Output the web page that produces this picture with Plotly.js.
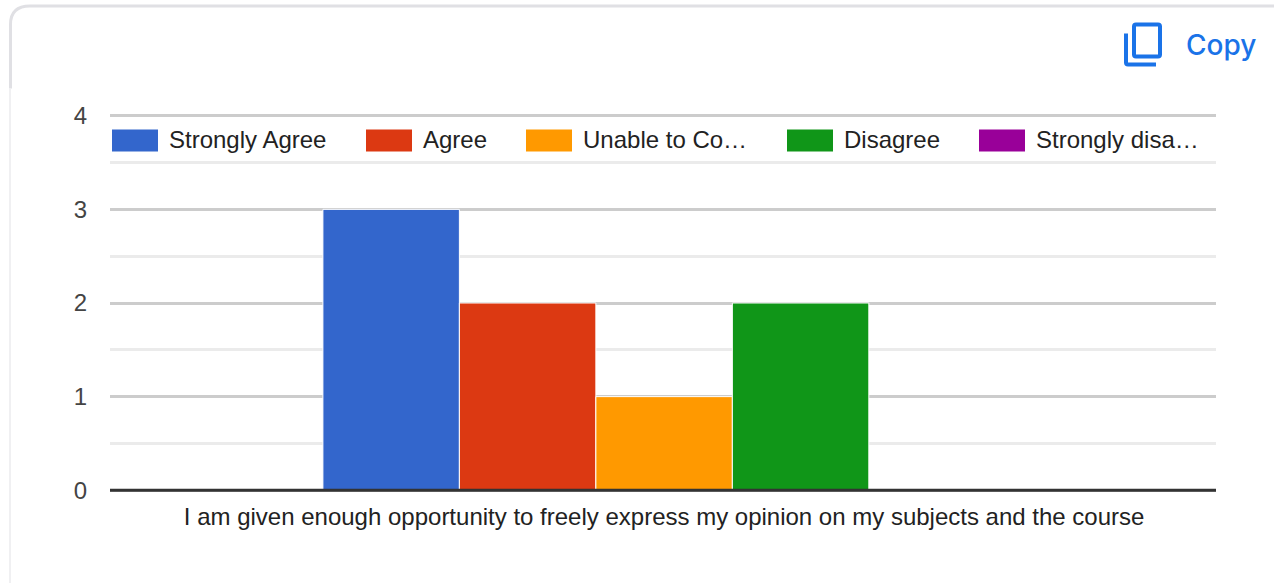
<!DOCTYPE html>
<html><head><meta charset="utf-8">
<script src="https://cdn.plot.ly/plotly-3.0.1.min.js"></script>
<style>html,body{margin:0;padding:0;background:#fff;overflow:hidden}#c{width:1274px;height:583px}</style>
</head><body><div id="c"></div>
<script>
const category = ["I am given enough opportunity to freely express my opinion on my subjects and the course"];
const seriesNames = ["Strongly Agree","Agree","Unable to Comment","Disagree","Strongly disagree"];
const legendLabels = ["Strongly Agree","Agree","Unable to Co…","Disagree","Strongly disa…"];
const seriesValues = [3,2,1,2,0];
const seriesColors = ["#3366cc","#dc3912","#ff9900","#109618","#990099"];
const legendSwatchLeft = [112,366,526,787,979];
const yTicks = [0,1,2,3,4];

const W=1274,H=583,mL=110,mR=58,mT=111.5,mB=89.3;
const px=x=>(x-mL)/(W-mL-mR), py=y=>1-(y-mT)/(H-mT-mB);

const traces = seriesNames.map((n,i)=>({
  type:'bar',name:n,x:category,y:[seriesValues[i]],
  marker:{color:seriesColors[i],line:{color:'#ffffff',width:1}},
  hoverinfo:'name+y'
}));

const shapes=[], annotations=[];
// card outline
const grey='#e0e0e4';
shapes.push({type:'path',xref:'paper',yref:'paper',layer:'below',line:{color:grey,width:3},
 path:`M ${px(10.5)} ${py(88)} L ${px(10.5)} ${py(24)} Q ${px(10.5)} ${py(5.5)} ${px(30)} ${py(5.5)} L ${px(1274)} ${py(5.5)}`});
shapes.push({type:'line',xref:'paper',yref:'paper',layer:'below',line:{color:'#f0f0f2',width:2},
 x0:px(10),x1:px(10),y0:py(88),y1:py(583)});
// axis baseline
shapes.push({type:'line',xref:'paper',yref:'y',layer:'above',line:{color:'#333333',width:3},x0:0,x1:1,y0:0,y1:0});
// legend
legendLabels.forEach((t,i)=>{
  const l=legendSwatchLeft[i];
  shapes.push({type:'rect',xref:'paper',yref:'paper',layer:'above',line:{width:0},fillcolor:seriesColors[i],
    x0:px(l),x1:px(l+46),y0:py(151),y1:py(129)});
  annotations.push({xref:'paper',yref:'paper',x:px(l+55),y:py(139),text:t,showarrow:false,xanchor:'left',yanchor:'middle',
    font:{family:'Liberation Sans',size:24,color:'#222222'},bgcolor:'rgba(255,255,255,0)'});
});
// copy icon
const blue='#1a73e8';
shapes.push({type:'path',xref:'paper',yref:'paper',layer:'above',line:{color:blue,width:4},
 path:`M ${px(1136)} ${py(24)} L ${px(1158)} ${py(24)} Q ${px(1160)} ${py(24)} ${px(1160)} ${py(26)} L ${px(1160)} ${py(54)} Q ${px(1160)} ${py(56)} ${px(1158)} ${py(56)} L ${px(1136)} ${py(56)} Q ${px(1134)} ${py(56)} ${px(1134)} ${py(54)} L ${px(1134)} ${py(26)} Q ${px(1134)} ${py(24)} ${px(1136)} ${py(24)} Z`});
shapes.push({type:'path',xref:'paper',yref:'paper',layer:'above',line:{color:blue,width:4},
 path:`M ${px(1126)} ${py(33)} L ${px(1126)} ${py(62)} Q ${px(1126)} ${py(64)} ${px(1128)} ${py(64)} L ${px(1156)} ${py(64)}`});
annotations.push({xref:'paper',yref:'paper',x:px(1184),y:py(44),text:'Copy',showarrow:false,xanchor:'left',yanchor:'middle',
  font:{family:'Inter',size:28,weight:500,color:blue}});

const layout={
  width:W,height:H,margin:{l:mL,r:mR,t:mT,b:mB,pad:0,autoexpand:false},
  paper_bgcolor:'#ffffff',plot_bgcolor:'#ffffff',showlegend:false,
  barmode:'group',bargap:0.383,bargroupgap:0,
  font:{family:'Liberation Sans'},
  xaxis:{type:'category',range:[-0.501,0.499],showgrid:false,zeroline:false,showline:false,ticks:'outside',ticklen:1,tickcolor:'rgba(0,0,0,0)',
    tickfont:{family:'Liberation Sans',size:24,color:'#222222'},automargin:false},
  yaxis:{range:[-0.04,4.04],tickvals:yTicks,ticktext:yTicks.map(String),ticks:'',gridcolor:'#cccccc',gridwidth:3,zeroline:false,
    tickfont:{family:'Liberation Sans',size:24,color:'#444444'},ticklabelstandoff:22,automargin:false,
    minor:{dtick:0.5,showgrid:true,gridcolor:'#ebebeb',gridwidth:3,ticks:''}},
  shapes,annotations
};
Plotly.newPlot('c',traces,layout,{displayModeBar:false,responsive:false});
</script></body></html>
